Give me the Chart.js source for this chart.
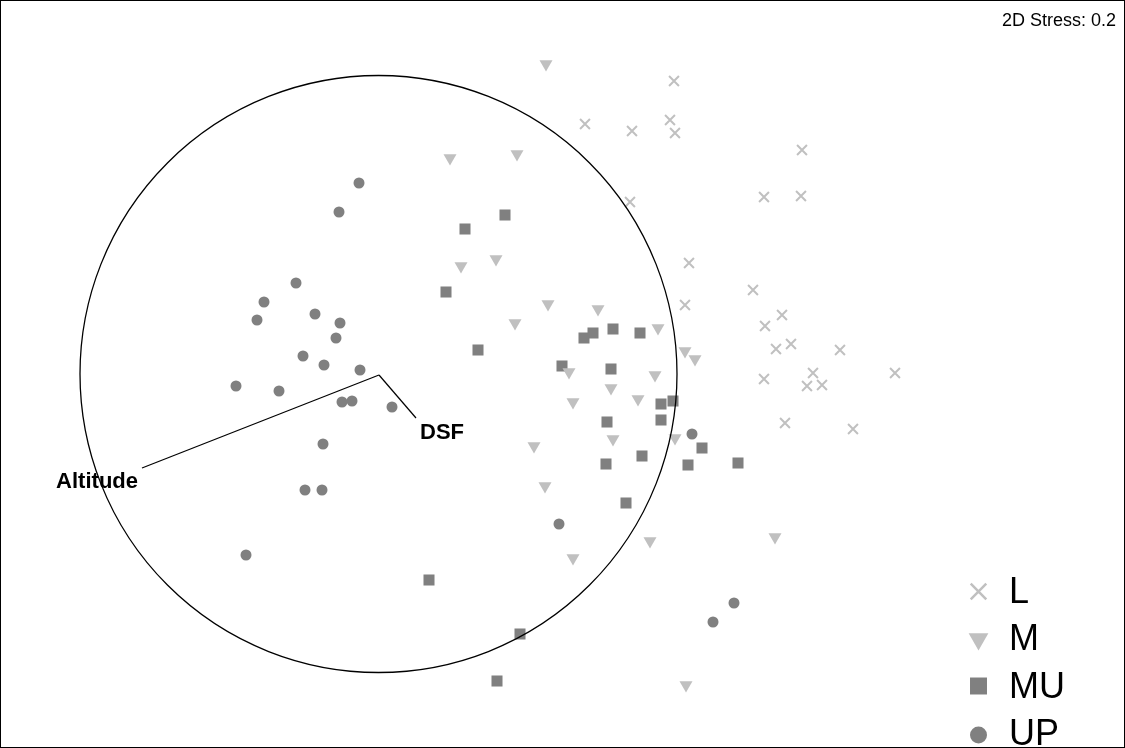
<!DOCTYPE html>
<html>
<head>
<meta charset="utf-8">
<script src="https://cdn.jsdelivr.net/npm/chart.js@4/dist/chart.umd.min.js"></script>
<style>
  html, body { margin: 0; padding: 0; background: #fff; }
  #wrap { width: 1125px; height: 748px; position: relative; }
</style>
</head>
<body>
<div id="wrap"><canvas id="mds"></canvas></div>
<script>
// MDS ordination (plot units, y grows downwards)

const groupNames = ['L', 'M', 'MU', 'UP'];

const ptsL = [[674,81],[585,124],[632,131],[670,120],[675,133],[630,202],[802,150],[764,197],
  [801,196],[689,263],[753,290],[685,305],[782,315],[765,326],[776,349],[791,344],[840,350],
  [813,373],[807,386],[822,385],[895,373],[764,379],[785,423],[853,429]];

const ptsM = [[546,64],[450,158],[517,154],[461,266],[496,259],[548,304],[598,309],[515,323],
  [658,328],[685,351],[695,359],[569,372],[611,388],[655,375],[638,399],[573,402],[613,439],
  [534,446],[675,438],[545,486],[650,541],[573,558],[775,537],[686,685]];

const ptsMU = [[505,215],[465,229],[446,292],[478,350],[584,338],[593,333],[613,329],[640,333],
  [562,366],[611,369],[661,404],[673,401],[661,420],[607,422],[702,448],[642,456],[606,464],
  [688,465],[738,463],[626,503],[429,580],[520,634],[497,681]];

const ptsUP = [[359,183],[339,212],[296,283],[264,302],[257,320],[315,314],[340,323],[336,338],
  [303,356],[324,365],[360,370],[236,386],[279,391],[342,402],[352,401],[392,407],[323,444],
  [305,490],[322,490],[246,555],[692,434],[559,524],[734,603],[713,622]];

// correlation vectors (origin + tips) and circle
const vecOrigin = [379, 375];
const vecNames = ['Altitude', 'DSF'];
const vecTips = [[142, 468], [416, 418]];
const circleCenter = [378.5, 374];
const circleRadius = 298.5;

const stressText = '2D Stress: 0.2';

const LIGHT = '#c0c0c0';
const DARK = '#808080';
const FONT = '"Liberation Sans", Arial, Helvetica, sans-serif';

const styles = {
  L:  { pointStyle: 'crossRot', radius: 7, rotation: 0, color: LIGHT, bw: 2, lr: 11, lbw: 2.5 },
  M:  { pointStyle: 'triangle', radius: 7.5, rotation: 180, color: LIGHT, bw: 0, lr: 11.4, lbw: 0 },
  MU: { pointStyle: 'rect', radius: 7.8, rotation: 0, color: DARK, bw: 0, lr: 12, lbw: 0 },
  UP: { pointStyle: 'circle', radius: 5.5, rotation: 0, color: DARK, bw: 0, lr: 8.5, lbw: 0 }
};

const toXY = arr => arr.map(p => ({ x: p[0], y: p[1] }));
const groupData = { L: ptsL, M: ptsM, MU: ptsMU, UP: ptsUP };

const datasets = groupNames.map(g => ({
  label: g,
  data: toXY(groupData[g]),
  pointStyle: styles[g].pointStyle,
  pointRadius: styles[g].radius,
  pointHoverRadius: styles[g].radius,
  pointRotation: styles[g].rotation,
  backgroundColor: styles[g].color,
  borderColor: styles[g].color,
  borderWidth: styles[g].bw,
  order: 2
}));

vecTips.forEach((t, i) => {
  datasets.push({
    label: vecNames[i],
    data: toXY([vecOrigin, t]),
    showLine: true,
    borderColor: '#000',
    borderWidth: 1.2,
    pointRadius: 0,
    fill: false,
    order: 1
  });
});

function drawMarker(ctx, style, r, x, y, bw) {
  ctx.save();
  ctx.fillStyle = style.color;
  ctx.strokeStyle = style.color;
  ctx.lineWidth = bw;
  ctx.beginPath();
  if (style.pointStyle === 'circle') {
    ctx.arc(x, y, r, 0, Math.PI * 2);
    ctx.fill();
  } else if (style.pointStyle === 'rect') {
    const s = r * Math.SQRT1_2;
    ctx.fillRect(x - s, y - s, 2 * s, 2 * s);
  } else if (style.pointStyle === 'triangle') {
    // pointing down
    const dx = Math.cos(Math.PI / 6) * r;
    ctx.moveTo(x, y + r);
    ctx.lineTo(x - dx, y - r / 2);
    ctx.lineTo(x + dx, y - r / 2);
    ctx.closePath();
    ctx.fill();
  } else {
    const o = r * Math.SQRT1_2;
    ctx.moveTo(x - o, y - o); ctx.lineTo(x + o, y + o);
    ctx.moveTo(x - o, y + o); ctx.lineTo(x + o, y - o);
    ctx.stroke();
  }
  ctx.restore();
}

const decor = {
  id: 'decor',
  afterDatasetsDraw(chart) {
    const { ctx, chartArea, scales } = chart;
    const xs = scales.x, ys = scales.y;
    ctx.save();

    // circle
    const cx = xs.getPixelForValue(circleCenter[0]);
    const cy = ys.getPixelForValue(circleCenter[1]);
    const rp = xs.getPixelForValue(circleCenter[0] + circleRadius) - cx;
    ctx.beginPath();
    ctx.arc(cx, cy, rp, 0, Math.PI * 2);
    ctx.strokeStyle = '#000';
    ctx.lineWidth = 1.3;
    ctx.stroke();

    // vector labels
    ctx.fillStyle = '#000';
    ctx.font = 'bold 22px ' + FONT;
    ctx.textBaseline = 'middle';
    const a = vecTips[0], d = vecTips[1];
    ctx.textAlign = 'right';
    ctx.fillText(vecNames[0], xs.getPixelForValue(a[0]) - 4, ys.getPixelForValue(a[1]) + 14);
    ctx.textAlign = 'left';
    ctx.fillText(vecNames[1], xs.getPixelForValue(d[0]) + 4, ys.getPixelForValue(d[1]) + 15);

    // stress
    ctx.font = '18px ' + FONT;
    ctx.textAlign = 'right';
    ctx.fillText(stressText, chartArea.right - 9, chartArea.top + 21);

    // legend
    const markerY = [591.5, 639, 686, 735];
    const baseY = [603, 650, 698, 745];
    ctx.font = '36px ' + FONT;
    ctx.textAlign = 'left';
    ctx.textBaseline = 'alphabetic';
    groupNames.forEach((g, i) => {
      const st = styles[g];
      drawMarker(ctx, st, st.lr, 978.5, markerY[i], st.lbw);
      ctx.fillStyle = '#000';
      ctx.fillText(g, 1009, baseY[i]);
    });

    // frame
    ctx.strokeStyle = '#000';
    ctx.lineWidth = 1;
    ctx.strokeRect(0.5, 0.5, chart.width - 1, chart.height - 1);
    ctx.restore();
  }
};

new Chart(document.getElementById('mds'), {
  type: 'scatter',
  data: { datasets },
  options: {
    responsive: true,
    maintainAspectRatio: false,
    animation: false,
    layout: { padding: 0, autoPadding: false },
    scales: {
      x: { type: 'linear', min: 0, max: 1125, display: false },
      y: { type: 'linear', min: 0, max: 748, reverse: true, display: false }
    },
    plugins: {
      legend: { display: false },
      tooltip: { enabled: true }
    }
  },
  plugins: [decor]
});
</script>
</body>
</html>
